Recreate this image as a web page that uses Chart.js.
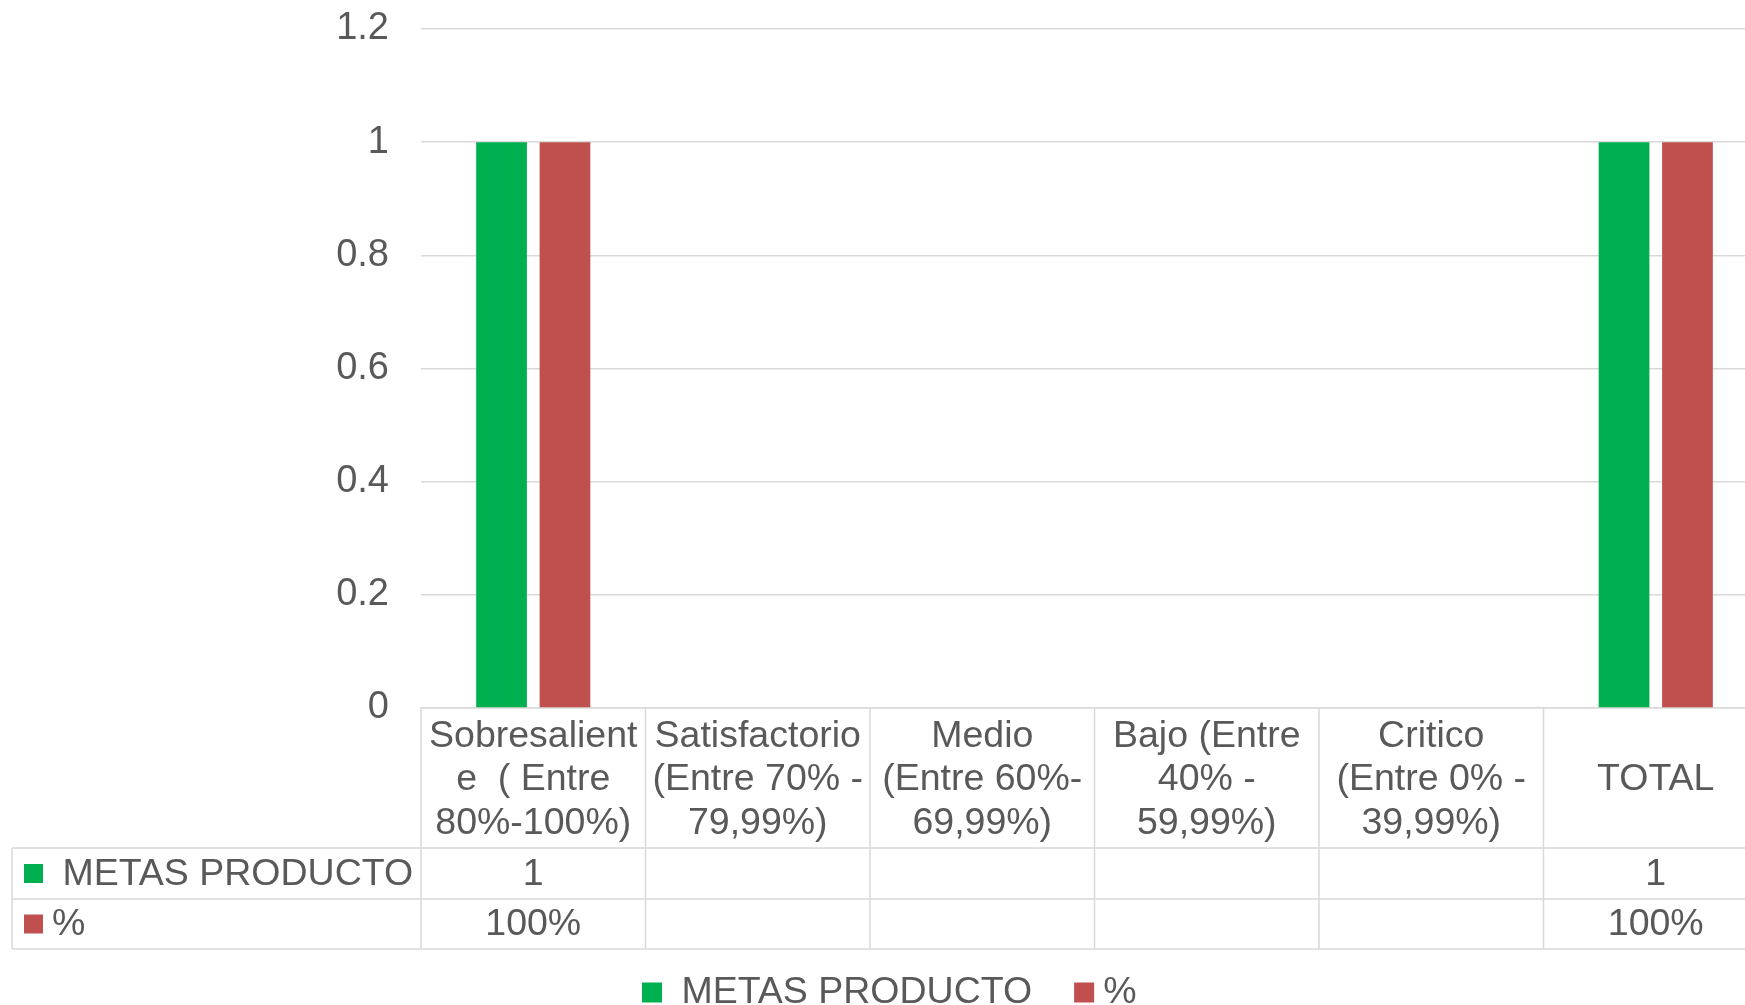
<!DOCTYPE html>
<html>
<head>
<meta charset="utf-8">
<title>Metas producto</title>
<script src="https://cdn.jsdelivr.net/npm/chart.js@4.4.1/dist/chart.umd.min.js"></script>
<style>
  html, body { margin: 0; padding: 0; background: #fff; overflow: hidden; }
  #wrap { width: 1768px; height: 1005px; }
</style>
</head>
<body>
<div id="wrap"><canvas id="myChart" width="1768" height="1005"></canvas></div>
<script>
// datos del grafico
var categorias = [
  ['Sobresalient', 'e  ( Entre', '80%-100%)'],
  ['Satisfactorio', '(Entre 70% -', '79,99%)'],
  ['Medio', '(Entre 60%-', '69,99%)'],
  ['Bajo (Entre', '40% -', '59,99%)'],
  ['Critico', '(Entre 0% -', '39,99%)'],
  ['TOTAL']
];
var metasProducto = [1, null, null, null, null, 1];
var porcentaje = [1, null, null, null, null, 1];
var seriesNombres = [' METAS PRODUCTO', '%'];
var seriesColores = ['#00B050', '#C0504D'];
var ticksY = [0, 0.2, 0.4, 0.6, 0.8, 1, 1.2];

var FUENTE = '"Liberation Sans", Arial, sans-serif';
var GRIS_TEXTO = '#595959';
var GRIS_LINEA = '#d9d9d9';

// valores que se muestran en la tabla de datos
function textoMetas(v) { return v == null ? '' : String(v); }
function textoPct(v) { return v == null ? '' : Math.round(v * 100) + '%'; }

// tabla de datos bajo el eje x + leyenda inferior
var tablaPlugin = {
  id: 'tablaDatos',
  afterDraw: function (chart) {
    var ctx = chart.ctx;
    var x = chart.scales.x;
    var area = chart.chartArea;
    var n = categorias.length;
    var ancho = x.getPixelForValue(1) - x.getPixelForValue(0);
    var izq = x.getPixelForValue(0) - ancho / 2;

    var yTop = area.bottom;
    var yFila1 = yTop + 140;
    var yFila2 = yFila1 + 51;
    var yFin = yFila2 + 50;
    var xTabla = 12;

    ctx.save();
    ctx.strokeStyle = GRIS_LINEA;
    ctx.lineWidth = 1.5;
    ctx.beginPath();
    [yFila1, yFila2, yFin].forEach(function (y) {
      ctx.moveTo(xTabla, y);
      ctx.lineTo(chart.width, y);
    });
    ctx.moveTo(xTabla, yFila1);
    ctx.lineTo(xTabla, yFin);
    for (var k = 0; k <= n; k++) {
      var xl = izq + k * ancho;
      ctx.moveTo(xl, yTop);
      ctx.lineTo(xl, yFin);
    }
    ctx.stroke();

    // encabezados de categoria
    ctx.fillStyle = GRIS_TEXTO;
    ctx.font = '37.5px ' + FUENTE;
    ctx.textAlign = 'center';
    ctx.textBaseline = 'middle';
    var centroHead = (yTop + yFila1) / 2 + 2;
    for (var i = 0; i < n; i++) {
      var cx = x.getPixelForValue(i);
      var lineas = categorias[i];
      var y0 = centroHead - (lineas.length - 1) * 43.5 / 2;
      for (var j = 0; j < lineas.length; j++) {
        ctx.fillText(lineas[j], cx, y0 + j * 43.5);
      }
      ctx.fillText(textoMetas(metasProducto[i]), cx, (yFila1 + yFila2) / 2 + 1);
      ctx.fillText(textoPct(porcentaje[i]), cx, (yFila2 + yFin) / 2 + 1);
    }

    // claves de la tabla
    ctx.textAlign = 'left';
    var filas = [(yFila1 + yFila2) / 2, (yFila2 + yFin) / 2];
    for (var s = 0; s < 2; s++) {
      ctx.fillStyle = seriesColores[s];
      ctx.fillRect(24, filas[s] - 9.5, 19, 19);
      ctx.fillStyle = GRIS_TEXTO;
      ctx.fillText(seriesNombres[s], 52, filas[s] + 1);
    }

    // leyenda inferior
    var lx = 642;
    var ly = 992;
    for (var s2 = 0; s2 < 2; s2++) {
      ctx.fillStyle = seriesColores[s2];
      ctx.fillRect(lx, ly - 9.5, 20, 20);
      ctx.fillStyle = GRIS_TEXTO;
      ctx.fillText(seriesNombres[s2], lx + 29, ly + 1);
      lx += 29 + ctx.measureText(seriesNombres[s2]).width + 42;
    }
    ctx.restore();
  }
};

var ctx = document.getElementById('myChart').getContext('2d');
var chart = new Chart(ctx, {
  type: 'bar',
  data: {
    labels: categorias,
    datasets: [{
      label: seriesNombres[0],
      backgroundColor: seriesColores[0],
      data: metasProducto,
      categoryPercentage: 0.565,
      barPercentage: 0.8
    },
    {
      label: seriesNombres[1],
      backgroundColor: seriesColores[1],
      data: porcentaje,
      categoryPercentage: 0.565,
      barPercentage: 0.8
    }]
  },
  options: {
    responsive: false,
    animation: false,
    devicePixelRatio: 1,
    layout: {
      padding: { left: 0, right: 0, top: 29, bottom: 0 }
    },
    plugins: {
      legend: { display: false },
      tooltip: { enabled: false }
    },
    scales: {
      x: {
        ticks: { display: false },
        grid: { display: false, drawTicks: false },
        border: { display: true, color: GRIS_LINEA, width: 1.5 },
        afterFit: function (scale) { scale.height = 297; }
      },
      y: {
        min: 0,
        max: 1.2,
        afterBuildTicks: function (axis) {
          axis.ticks = ticksY.map(function (v) { return { value: v }; });
        },
        ticks: {
          padding: 32,
          color: GRIS_TEXTO,
          font: { family: FUENTE, size: 38 },
          callback: function (v) { return String(+v.toFixed(1)); }
        },
        grid: { color: GRIS_LINEA, lineWidth: 1.5, drawTicks: false },
        border: { display: false },
        afterFit: function (scale) {
          scale.width = 421;
          scale.paddingTop = 0;
          scale.paddingBottom = 0;
        }
      }
    }
  },
  plugins: [tablaPlugin]
});
</script>
</body>
</html>
